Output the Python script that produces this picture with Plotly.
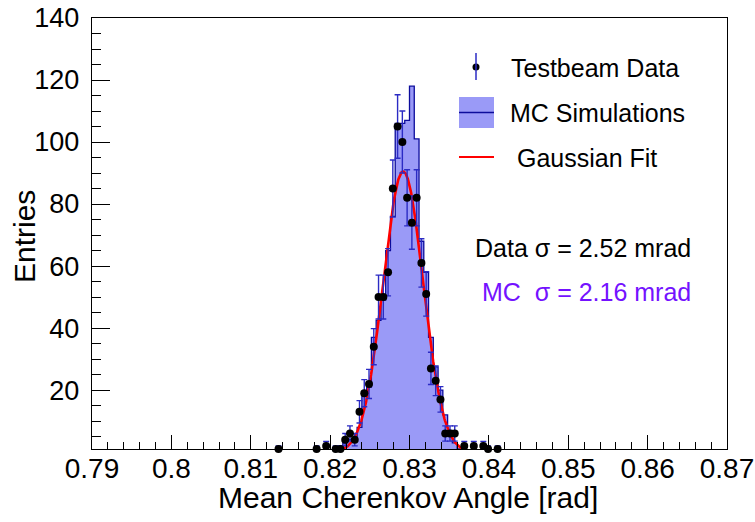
import numpy as np
import plotly.graph_objects as go

# ---------------- data ----------------
# Testbeam data: bin centres [rad] and entries (error = sqrt(N))
data_x = [0.8135, 0.8183, 0.8195, 0.8207, 0.8213, 0.8219, 0.8225, 0.8231,
          0.8237, 0.8243, 0.8249, 0.8255, 0.8261, 0.8267, 0.8273, 0.8279,
          0.8285, 0.8291, 0.8297, 0.8303, 0.8309, 0.8315, 0.8321, 0.8327,
          0.8333, 0.8339, 0.8345, 0.8351, 0.8357, 0.8369, 0.8381, 0.8393,
          0.8399, 0.8411]
data_y = [1, 1, 2, 1, 1, 4, 6, 4,
          13, 19, 22, 34, 50, 50, 58, 85,
          105, 100, 82, 74, 82, 61, 51, 27,
          23, 17, 6, 6, 6, 2, 2, 2,
          1, 1]

# MC simulation histogram: bin centres [rad] and contents
mc_x = [0.8207, 0.8213, 0.8219, 0.8225, 0.8231, 0.8237, 0.8243, 0.8249,
        0.8255, 0.8261, 0.8267, 0.8273, 0.8279, 0.8285, 0.8291, 0.8297,
        0.8303, 0.8309, 0.8315, 0.8321, 0.8327, 0.8333, 0.8339, 0.8345,
        0.8351, 0.8357, 0.8363]
mc_y = [1, 2, 3, 4, 4.5, 8, 18, 21,
        37, 42.5, 49, 65, 76, 106, 106, 107,
        118, 101, 68, 58, 37, 27.5, 20, 12,
        7, 3, 1]
mc_bin_width = 0.0006

# Gaussian fit to data (parameters)
fit_amp = 90.5
fit_mean = 0.8292
fit_sigma = 0.00252
fit_lo, fit_hi = 0.8216, 0.8368

x_ticks = [0.79, 0.80, 0.81, 0.82, 0.83, 0.84, 0.85, 0.86, 0.87]
x_ticklabels = ["0.79", "0.8", "0.81", "0.82", "0.83", "0.84", "0.85", "0.86", "0.87"]
y_ticks = [20, 40, 60, 80, 100, 120, 140]

legend_labels = ["Testbeam Data", "MC Simulations", " Gaussian Fit"]
sigma_texts = ["Data σ = 2.52 mrad", "MC  σ = 2.16 mrad"]
x_title = "Mean Cherenkov Angle [rad]"
y_title = "Entries"

# ---------------- styling ----------------
FONT = "Liberation Sans, Arial, Helvetica, sans-serif"
FILL = "#9a9af7"
HLINE = "#0c0c9c"
ERRC = "#2b2bc4"
RED = "#ff0000"
PURPLE = "#7412ff"

W, H = 755, 522
FX0, FX1, FY0, FY1 = 92, 727, 18, 449   # plot frame in window pixels
L, T = FX0, FY0
R, B = W - FX1, H - FY1
PW, PH = FX1 - FX0, FY1 - FY0


def px(xp):
    return (xp - FX0) / PW


def py(yp):
    return (FY1 - yp) / PH


fig = go.Figure()

# MC histogram (step, filled)
edges = [c - mc_bin_width / 2 for c in mc_x]
sx = [edges[0]] + edges + [mc_x[-1] + mc_bin_width / 2, mc_x[-1] + mc_bin_width / 2]
sy = [0] + list(mc_y) + [mc_y[-1], 0]
fig.add_trace(go.Scatter(x=sx, y=sy, mode="lines", line=dict(shape="hv", color=HLINE, width=1.3),
                         fill="tozeroy", fillcolor=FILL, hoverinfo="skip", showlegend=False))

# Gaussian fit
fx = np.linspace(fit_lo, fit_hi, 300)
fy = fit_amp * np.exp(-0.5 * ((fx - fit_mean) / fit_sigma) ** 2)
fig.add_trace(go.Scatter(x=fx, y=fy, mode="lines", line=dict(color=RED, width=2.6),
                         hoverinfo="skip", showlegend=False))

# data points with sqrt(N) errors
fig.add_trace(go.Scatter(x=data_x, y=data_y, mode="markers",
                         marker=dict(color="black", size=8),
                         error_y=dict(type="data", array=list(np.sqrt(data_y)), color=ERRC,
                                      thickness=1.4, width=3),
                         cliponaxis=False, showlegend=False))

# ---------------- manual legend ----------------
shapes = []
annotations = []
shapes.append(dict(type="line", xref="paper", yref="paper", x0=px(476), x1=px(476),
                   y0=py(53), y1=py(80), line=dict(color=ERRC, width=1.5)))
fig.add_trace(go.Scatter(x=[px(476)], y=[py(67)], xaxis="x2", yaxis="y2", mode="markers",
                         marker=dict(color="black", size=7), showlegend=False, hoverinfo="skip",
                         cliponaxis=False))
shapes.append(dict(type="rect", xref="paper", yref="paper", x0=px(459), x1=px(494),
                   y0=py(128), y1=py(97), fillcolor=FILL, line=dict(width=0)))
shapes.append(dict(type="line", xref="paper", yref="paper", x0=px(459), x1=px(494),
                   y0=py(112.5), y1=py(112.5), line=dict(color=HLINE, width=1.3)))
shapes.append(dict(type="line", xref="paper", yref="paper", x0=px(459), x1=px(494),
                   y0=py(157), y1=py(157), line=dict(color=RED, width=2)))

for lab, ypix, xpix in zip(legend_labels, [68, 113, 158], [509, 508, 508]):
    annotations.append(dict(xref="paper", yref="paper", x=px(xpix), y=py(ypix), text=lab,
                            showarrow=False, xanchor="left", yanchor="middle",
                            font=dict(family=FONT, size=25, color="black")))

annotations.append(dict(xref="paper", yref="paper", x=px(693), y=py(248), text=sigma_texts[0],
                        showarrow=False, xanchor="right", yanchor="middle",
                        font=dict(family=FONT, size=25, color="black")))
annotations.append(dict(xref="paper", yref="paper", x=px(693), y=py(292), text=sigma_texts[1],
                        showarrow=False, xanchor="right", yanchor="middle",
                        font=dict(family=FONT, size=25, color=PURPLE)))

# axis titles
annotations.append(dict(xref="paper", yref="paper", x=px(408), y=py(497), text=x_title,
                        showarrow=False, xanchor="center", yanchor="middle",
                        font=dict(family=FONT, size=30, color="black")))
annotations.append(dict(xref="paper", yref="paper", x=px(25), y=py(237), text=y_title,
                        showarrow=False, xanchor="center", yanchor="middle", textangle=-90,
                        font=dict(family=FONT, size=30, color="black")))

fig.update_layout(
    width=W, height=H,
    margin=dict(l=L, r=R, t=T, b=B, autoexpand=False),
    paper_bgcolor="white", plot_bgcolor="white",
    font=dict(family=FONT, color="black"),
    shapes=shapes, annotations=annotations,
    xaxis=dict(range=[0.79, 0.87], tickmode="array", tickvals=x_ticks, ticktext=x_ticklabels,
               ticks="inside", ticklen=14, tickwidth=1, tickcolor="black",
               minor=dict(dtick=0.002, tick0=0.79, ticks="inside", ticklen=7, tickcolor="black"),
               showline=True, linecolor="black", linewidth=1.2, mirror=True,
               showgrid=False, zeroline=False, automargin=False,
               ticklabelstandoff=-6, ticklabeloverflow="allow",
               tickfont=dict(size=28)),
    yaxis=dict(range=[1, 140], tickmode="array", tickvals=y_ticks,
               ticks="inside", ticklen=18, tickwidth=1, tickcolor="black",
               minor=dict(dtick=5, tick0=0, ticks="inside", ticklen=9, tickcolor="black"),
               showline=True, linecolor="black", linewidth=1.2, mirror=True,
               showgrid=False, zeroline=False, automargin=False,
               ticklabelstandoff=6, ticklabeloverflow="allow",
               tickfont=dict(size=27)),
    xaxis2=dict(range=[0, 1], overlaying="x", visible=False),
    yaxis2=dict(range=[0, 1], overlaying="y", visible=False),
    hovermode=False,
)

# remove the default 8px page margin so the 755x522 figure fills the window exactly
fig.write_html("out.html",
               config={"displayModeBar": False, "staticPlot": True},
               post_script="document.body.style.margin='0';document.body.style.overflow='hidden';")
